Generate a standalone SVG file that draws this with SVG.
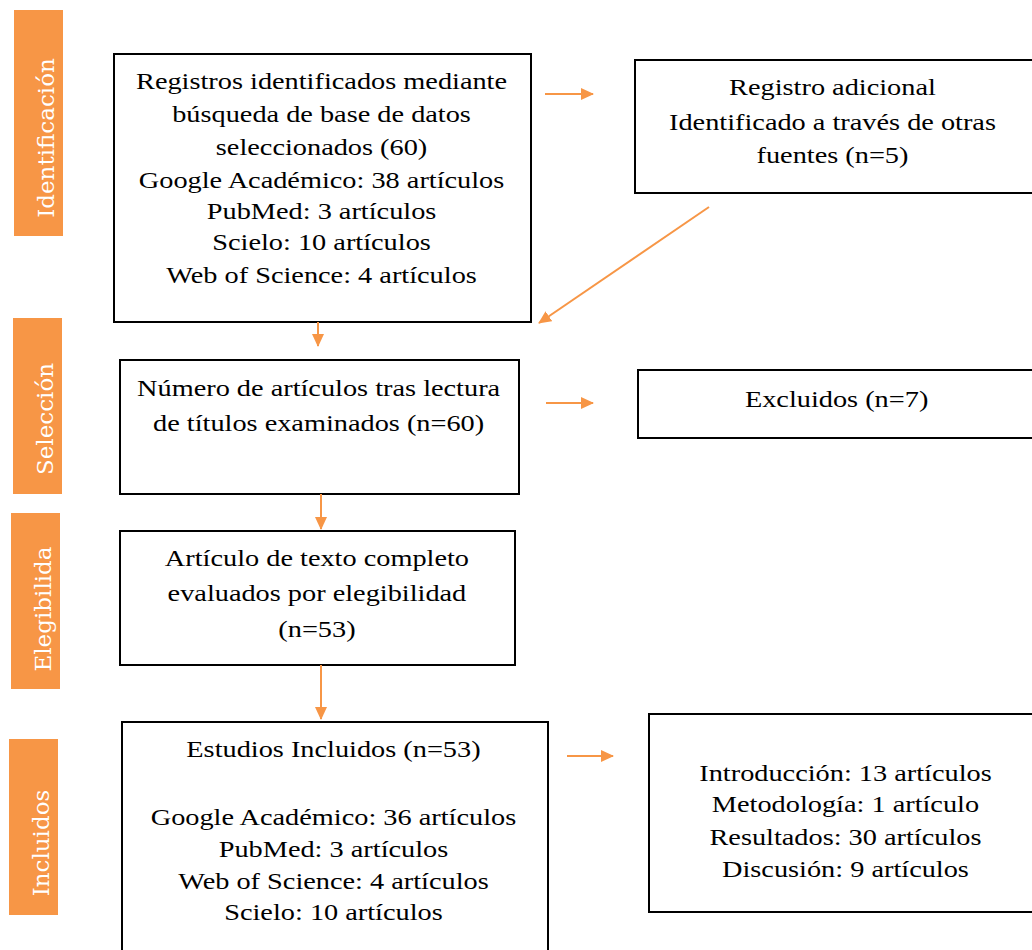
<svg xmlns="http://www.w3.org/2000/svg" width="1032" height="950" viewBox="0 0 1032 950">
<defs>
<style>
.bar{fill:#F79646;}
.bl{font-family:"DejaVu Serif",serif;font-size:23px;fill:#fff;text-anchor:middle;}
.box{fill:#fff;stroke:#000;stroke-width:2;}
.t{font-family:"Liberation Serif","Times New Roman",serif;font-size:24px;fill:#000;text-anchor:middle;}
.c{stroke:#F79646;stroke-width:2;fill:none;marker-end:url(#ah);}
</style>
<marker id="ah" markerWidth="13" markerHeight="12" refX="12" refY="6" orient="auto" markerUnits="userSpaceOnUse">
<path d="M0,0 L13,6 L0,12 Z" fill="#F79646"/>
</marker>
</defs>
<rect width="1032" height="950" fill="#fff"/>
<g id="bar-identificacion"><rect class="bar" x="14" y="10" width="49" height="226"/><text class="bl" transform="translate(54,138) rotate(-90)">Identificación</text></g>
<g id="bar-seleccion"><rect class="bar" x="13" y="318" width="49" height="176"/><text class="bl" transform="translate(53,419) rotate(-90)">Selección</text></g>
<g id="bar-elegibilida"><rect class="bar" x="11" y="513" width="49" height="176"/><text class="bl" transform="translate(51,609) rotate(-90)">Elegibilida</text></g>
<g id="bar-incluidos"><rect class="bar" x="9" y="739" width="49" height="176"/><text class="bl" transform="translate(49,843) rotate(-90)">Incluidos</text></g>

<g id="box-registros"><rect class="box" x="114" y="54" width="417" height="268"/>
<g transform="scale(1.18 1)">
<text class="t" x="272.5" y="89">Registros identificados mediante</text>
<text class="t" x="272.5" y="122">búsqueda de base de datos</text>
<text class="t" x="272.5" y="155">seleccionados (60)</text>
<text class="t" x="272.5" y="188">Google Académico: 38 artículos</text>
<text class="t" x="272.5" y="219">PubMed: 3 artículos</text>
<text class="t" x="272.5" y="250">Scielo: 10 artículos</text>
<text class="t" x="272.5" y="283">Web of Science: 4 artículos</text></g></g>

<g id="box-adicional"><rect class="box" x="635" y="60" width="400" height="133"/>
<g transform="scale(1.18 1)">
<text class="t" x="705.5" y="95">Registro adicional</text>
<text class="t" x="705.5" y="130">Identificado a través de otras</text>
<text class="t" x="705.5" y="163">fuentes (n=5)</text></g></g>

<g id="box-numero"><rect class="box" x="120" y="360" width="399" height="134"/>
<g transform="scale(1.18 1)">
<text class="t" x="270" y="396">Número de artículos tras lectura</text>
<text class="t" x="270" y="431">de títulos examinados (n=60)</text></g></g>

<g id="box-excluidos"><rect class="box" x="638" y="370" width="397" height="68"/>
<g transform="scale(1.18 1)">
<text class="t" x="709" y="407">Excluidos (n=7)</text></g></g>

<g id="box-articulo"><rect class="box" x="120" y="531" width="395" height="134"/>
<g transform="scale(1.18 1)">
<text class="t" x="268.6" y="566">Artículo de texto completo</text>
<text class="t" x="268.6" y="601">evaluados por elegibilidad</text>
<text class="t" x="268.6" y="637">(n=53)</text></g></g>

<g id="box-estudios"><rect class="box" x="122" y="722" width="426" height="240"/>
<g transform="scale(1.18 1)">
<text class="t" x="282.6" y="757">Estudios Incluidos (n=53)</text>
<text class="t" x="282.6" y="825">Google Académico: 36 artículos</text>
<text class="t" x="282.6" y="857">PubMed: 3 artículos</text>
<text class="t" x="282.6" y="889">Web of Science: 4 artículos</text>
<text class="t" x="282.6" y="920">Scielo: 10 artículos</text></g></g>

<g id="box-resultados"><rect class="box" x="649" y="714" width="386" height="198"/>
<g transform="scale(1.18 1)">
<text class="t" x="716.5" y="781">Introducción: 13 artículos</text>
<text class="t" x="716.5" y="812">Metodología: 1 artículo</text>
<text class="t" x="716.5" y="845">Resultados: 30 artículos</text>
<text class="t" x="716.5" y="877">Discusión: 9 artículos</text></g></g>

<g id="connectors">
<line class="c" x1="545" y1="94" x2="593" y2="94"/>
<line class="c" x1="709" y1="207" x2="539" y2="323"/>
<line class="c" x1="318" y1="322" x2="318" y2="346"/>
<line class="c" x1="546" y1="403" x2="593" y2="403"/>
<line class="c" x1="321" y1="494" x2="321" y2="529"/>
<line class="c" x1="321" y1="665" x2="321" y2="719"/>
<line class="c" x1="567" y1="756" x2="613" y2="756"/>
</g>
</svg>
